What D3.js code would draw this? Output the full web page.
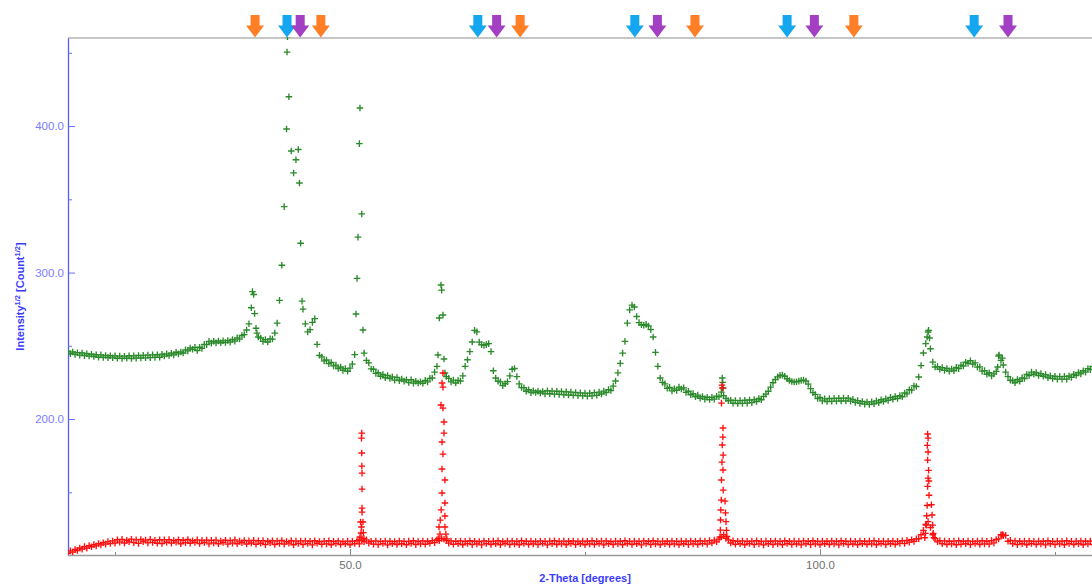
<!DOCTYPE html>
<html>
<head>
<meta charset="utf-8">
<script src="https://cdn.jsdelivr.net/npm/d3@7"></script>
<style>
  html, body { margin: 0; padding: 0; background: #ffffff; }
  svg { display: block; font-family: Arial, "Liberation Sans", sans-serif; }
</style>
</head>
<body>
<svg id="chart" width="1092" height="586"></svg>
<script>
// ---- Data -----------------------------------------------------------------
// Scan grid: 2-Theta from 20.00 in 0.25 degree steps, one row per 5 degrees.
const angleStart = 20;
const angleStep = 0.25;

// Measured pattern, sqrt(counts) (green)
const measuredValues = [
  246.4,244.6,245.8,244.1,245.3,243.6,245.1,243.3,244.6,243.0,244.2,242.7,243.9,242.2,243.8,242.1,243.4,241.9,243.2,241.8, // 20
  243.1,241.5,243.0,241.4,242.9,241.5,243.2,241.3,243.1,241.6,243.4,241.7,243.5,241.8,243.6,241.9,243.8,242.1,243.9,242.2, // 25
  244.2,243.0,244.5,243.4,244.9,243.8,245.6,244.5,245.8,245.1,247.2,246.5,248.5,247.6,248.9,246.8,249.0,248.2,251.0,250.8, // 30
  253.0,251.8,253.1,252.0,253.3,252.1,253.4,252.2,253.6,252.5,254.3,253.2,255.4,254.6,257.0,257.6,260.8,265.0,276.0,285.0, // 35
  262.0,256.0,255.3,253.0,254.2,252.6,254.7,254.6,258.7,265.5,281.0,305.0,345.0,398.0,420.0,383.0,368.0,377.0,384.0,320.0, // 40
  275.0,265.0,259.5,261.0,266.0,268.5,251.0,243.5,242.4,239.7,240.3,237.8,238.6,236.3,236.8,234.5,235.5,233.2,234.4,232.6, // 45
  234.8,237.5,244.0,296.0,388.0,340.0,245.0,240.0,238.3,234.2,234.0,231.2,231.6,229.2,230.4,228.2,229.7,227.7,228.8,226.6, // 50
  228.4,226.2,227.3,225.9,226.8,224.9,226.8,224.5,225.8,224.6,225.5,224.4,226.4,225.4,227.8,228.0,232.0,236.0,269.0,288.0, // 55
  241.0,229.0,227.8,225.4,226.6,224.6,226.4,226.0,229.5,236.0,240.5,246.0,252.6,260.5,259.5,252.5,250.8,250.3,250.8,251.5, // 60
  246.0,233.0,228.0,225.8,225.4,222.8,224.1,225.5,229.5,234.0,234.5,229.0,224.0,221.5,221.4,219.0,220.0,218.0,219.2,218.1, // 65
  219.0,217.8,218.8,217.2,219.3,217.3,219.1,217.0,219.0,216.8,218.8,216.6,218.6,216.4,218.4,216.2,218.1,216.0,217.9,215.8, // 70
  217.7,215.6,217.7,215.8,218.0,216.2,218.4,217.1,219.1,218.0,220.1,219.5,222.5,226.0,231.5,238.0,245.0,253.0,265.5,274.5, // 75
  277.8,276.5,270.0,265.8,264.4,264.0,264.6,263.5,261.0,256.0,245.5,236.0,228.0,225.0,224.0,221.0,221.6,219.2,220.6,219.6, // 80
  221.8,220.5,221.3,218.2,219.0,216.6,217.4,215.2,216.3,214.2,215.4,213.6,214.9,213.3,214.8,213.6,215.6,215.2,218.4,216.0, // 85
  214.0,212.5,212.8,210.8,212.7,210.6,212.6,210.7,212.8,210.9,213.0,211.2,213.3,212.0,214.0,213.2,215.5,217.0,219.0,221.8, // 90
  224.8,227.0,228.8,229.8,230.0,229.2,227.5,226.3,225.6,225.3,225.5,225.9,226.4,226.6,226.0,223.8,220.8,218.0,216.8,214.0, // 95
  214.8,212.4,213.8,212.0,214.0,212.1,214.1,212.2,214.2,212.3,214.3,212.4,214.2,212.2,213.4,211.4,212.6,210.7,212.0,210.2, // 100
  211.6,210.0,211.7,210.4,212.4,211.1,213.2,212.0,213.8,212.7,214.8,213.5,215.4,214.0,216.0,215.2,217.8,217.2,220.0,219.7, // 105
  222.6,222.2,228.7,236.5,245.1,251.5,259.4,248.0,238.9,235.5,235.8,234.0,235.1,233.2,234.5,232.7,234.2,233.0,235.3,234.4, // 110
  236.8,236.2,238.8,238.1,239.8,237.5,238.3,235.4,235.6,232.7,233.1,230.6,231.6,229.5,230.8,232.5,243.0,240.0,236.9,232.0, // 115
  229.0,226.5,226.1,224.8,227.0,225.8,228.1,227.7,230.4,229.7,232.0,230.6,231.8,229.7,231.0,229.2,230.3,228.2,229.5,227.7, // 120
  229.2,227.2,229.0,227.2,229.1,227.2,229.4,228.4,230.6,229.7,231.8,230.8,233.0,232.0,234.4,233.7,236.0,235.0,237.1,236.0  // 125
];

// Extra measured points on the narrow reflections [2-Theta, sqrt(counts)]
const measuredPeakPoints = [
  [39.62,287.0],[39.85,272.0],[40.1,258.7],
  [43.3,450.5],[43.35,461.0],[44.62,361.1],[44.9,280.5],
  [50.64,271.7],[50.85,324.2],[51.06,412.3],[51.38,260.8],
  [59.36,243.7],[59.68,291.5],[59.89,271.0],[60.1,231.4],
  [89.6,228.0],[89.65,225.0],[89.7,221.2],
  [111.4,256.0],[111.55,260.5],[111.65,255.3],
  [118.9,235.5],[119.05,243.7],[119.4,241.6]
];

// Reference pattern, sqrt(counts) (red)
const referenceValues = [
  108.4,110.0,109.2,111.0,110.3,112.0,111.2,112.9,111.9,113.6,112.8,114.3,113.4,115.0,114.1,115.6,114.6,116.3,115.0,116.8, // 20
  115.3,117.6,116.0,117.9,115.4,117.3,116.2,118.0,115.6,117.5,115.1,117.8,116.3,117.4,115.5,117.9,115.8,117.2,115.2,117.6, // 25
  115.0,117.5,115.9,117.7,115.3,117.0,116.0,117.6,114.9,117.3,115.6,117.8,115.2,116.9,115.8,117.5,115.0,117.2,115.7,117.4, // 30
  114.8,117.2,115.5,117.4,114.9,116.8,115.7,117.3,114.6,117.0,115.3,117.5,114.9,116.7,115.6,117.1,114.7,116.9,115.4,117.2, // 35
  114.5,116.9,115.2,117.0,114.3,116.6,115.5,116.9,114.4,116.8,115.0,117.1,114.6,116.3,115.3,116.9,114.2,116.7,115.1,116.8, // 40
  114.3,116.8,115.0,116.6,114.1,116.9,115.2,116.4,114.5,116.7,114.8,116.9,114.2,116.5,115.1,116.8,114.4,116.3,114.9,116.7, // 45
  114.2,116.6,115.0,116.9,114.8,117.2,116.3,117.5,115.3,116.6,114.6,116.8,114.3,116.5,115.0,116.7,114.1,116.6,114.9,116.4, // 50
  114.4,116.8,114.9,116.5,114.2,116.7,115.1,116.9,114.3,116.4,114.8,116.8,114.5,116.6,115.2,117.0,115.6,117.6,117.0,118.5, // 55
  118.0,117.2,115.3,116.8,114.5,116.6,114.9,116.8,114.2,116.5,115.0,116.9,114.3,116.6,114.8,116.4,114.1,116.8,115.0,116.5, // 60
  114.4,116.7,114.9,116.9,114.2,116.4,115.1,116.7,114.3,116.8,114.7,116.5,114.2,116.9,115.0,116.6,114.4,116.7,114.8,116.4, // 65
  114.3,116.8,115.0,116.5,114.1,116.7,114.9,116.9,114.4,116.5,114.8,116.7,114.2,116.6,115.1,116.8,114.3,116.4,114.9,116.7, // 70
  114.2,116.6,114.8,116.9,114.4,116.5,115.0,116.7,114.1,116.8,114.9,116.4,114.3,116.7,114.8,116.6,114.2,116.9,115.0,116.5, // 75
  114.4,116.7,114.9,116.5,114.1,116.8,115.0,116.6,114.3,116.9,114.7,116.5,114.2,116.7,114.9,116.6,114.4,116.8,114.8,116.5, // 80
  114.2,116.7,114.9,116.6,114.3,116.8,114.8,116.5,114.4,116.9,115.0,116.7,114.6,117.0,115.4,117.4,116.2,118.0,119.5,121.0, // 85
  118.5,117.5,115.4,116.9,114.5,116.6,114.9,116.8,114.2,116.5,115.0,116.7,114.3,116.9,114.8,116.5,114.1,116.7,114.9,116.6, // 90
  114.3,116.8,114.8,116.5,114.2,116.9,115.0,116.6,114.4,116.7,114.7,116.5,114.1,116.8,114.9,116.6,114.3,116.9,114.8,116.5, // 95
  114.2,116.7,114.9,116.6,114.4,116.8,114.8,116.5,114.1,116.9,115.0,116.6,114.3,116.7,114.7,116.5,114.2,116.8,114.9,116.6, // 100
  114.4,116.7,114.8,116.9,114.2,116.5,115.0,116.7,114.3,116.6,114.9,116.8,114.4,116.5,115.1,116.9,115.0,117.2,116.0,117.6, // 105
  116.5,118.2,118.3,121.0,124.0,128.0,130.0,126.0,121.0,118.4,116.2,117.0,114.9,116.8,114.4,116.6,114.8,116.7,114.2,116.9, // 110
  114.5,116.6,114.9,116.8,114.3,116.5,115.0,116.7,114.4,116.9,114.8,116.6,114.6,117.0,115.5,117.8,118.2,121.0,120.3,120.6, // 115
  116.6,117.2,114.9,116.8,114.3,116.6,114.9,116.7,114.2,116.8,115.0,116.5,114.4,116.7,114.8,116.6,114.1,116.9,114.9,116.5, // 120
  114.3,116.7,114.8,116.6,114.2,116.9,115.0,116.5,114.4,116.7,114.9,116.8,114.2,116.6,114.8,116.7,114.3,116.9,114.9,116.5  // 125
];

// Extra reference points on the narrow reflections [2-Theta, sqrt(counts)]
const referencePeakPoints = [
  [50.98,117.5],[51.06,119.5],[51.17,122.2],[51.22,126.3],[51.12,129.7],[51.28,136.5],[51.28,139.2],
  [51.28,152.2],[51.28,163.1],[51.26,167.9],[51.25,176.8],[51.22,187.0],[51.25,190.4],
  [51.38,129.7],[51.42,122.5],[51.48,118.5],
  [59.89,231.4],[59.79,224.6],[59.89,221.8],[59.68,209.6],[59.89,207.5],[60.0,198.0],[60.0,190.4],
  [59.79,184.3],[59.89,176.1],[59.79,165.9],[60.1,158.4],[59.79,149.5],[60.1,142.7],[60.1,133.8],
  [59.47,126.3],[60.1,126.3],[59.57,121.5],[60.2,121.5],[59.4,118.5],[60.3,118.2],[59.6,131.0],[59.7,138.0],
  [89.57,223.2],[89.62,221.2],[89.52,210.9],[89.68,193.9],[89.66,187.7],[89.6,182.3],[89.7,175.4],
  [89.57,170.6],[89.68,165.2],[89.52,158.4],[89.7,151.5],[89.5,144.7],[89.9,144.0],[89.45,137.9],
  [89.95,136.0],[89.42,131.1],[90.0,130.0],[89.4,124.2],[90.05,124.0],[89.35,119.5],[90.1,119.8],
  [111.45,189.8],[111.5,187.0],[111.42,182.0],[111.5,177.5],[111.45,172.0],[111.55,165.0],[111.5,159.7],
  [111.58,157.7],[111.45,154.0],[111.6,148.0],[111.4,141.0],[111.85,141.5],[111.35,134.0],[111.92,134.5],
  [111.3,127.6],[111.98,127.6],[111.22,122.0],[112.05,122.0],[111.15,119.0],[112.12,119.0],
  [119.35,120.8],[119.45,121.2]
];

// Phase reflection markers (2-Theta)
const phaseOrange = [39.9, 46.9, 68.1, 86.7, 103.6];
const phaseBlue   = [43.3, 63.6, 80.3, 96.5, 116.4];
const phasePurple = [44.7, 65.6, 82.7, 99.4, 120.0];

// Axis ticks
const xMajorTicks = [50, 100];
const xMinorTicks = [25, 75, 125];
const yMajorTicks = [200, 300, 400];
const yMinorTicks = [150, 250, 350, 450];

// ---- Layout ---------------------------------------------------------------
const plot = { left: 68, right: 1102, top: 38, bottom: 555 };

const svg = d3.select("#chart");

const x = d3.scaleLinear().domain([20, 130]).range([plot.left, plot.right]);
const y = d3.scaleLinear().domain([107.2, 460.1]).range([plot.bottom, plot.top]);

svg.append("defs").append("clipPath").attr("id", "plot-clip")
  .append("rect")
  .attr("x", plot.left).attr("y", plot.top - 1)
  .attr("width", plot.right - plot.left).attr("height", plot.bottom - plot.top + 1);

// Top frame line
svg.append("line")
  .attr("x1", plot.left).attr("x2", plot.right)
  .attr("y1", plot.top).attr("y2", plot.top)
  .attr("stroke", "#b3b3b3").attr("stroke-width", 1.6);

// ---- Axes -----------------------------------------------------------------
const fmt = d3.format(".1f");

const xAxis = svg.append("g").attr("transform", `translate(0,${plot.bottom})`)
  .call(d3.axisBottom(x).tickValues(xMajorTicks).tickFormat(fmt)
    .tickSize(-6).tickSizeOuter(0).tickPadding(6));
xAxis.select(".domain").attr("stroke", "#9a9a9a").attr("stroke-width", 1.3);
xAxis.selectAll(".tick line").attr("stroke", "#8a8a8a");
xAxis.selectAll(".tick text").attr("fill", "#6f6f6f").attr("font-size", 11.5)
  .attr("font-family", "Arial, 'Liberation Sans', sans-serif");

const xMinor = svg.append("g").attr("transform", `translate(0,${plot.bottom})`)
  .call(d3.axisBottom(x).tickValues(xMinorTicks).tickFormat("").tickSize(-3).tickSizeOuter(0));
xMinor.select(".domain").remove();
xMinor.selectAll(".tick line").attr("stroke", "#8a8a8a");

const yAxis = svg.append("g").attr("transform", `translate(${plot.left},0)`)
  .call(d3.axisLeft(y).tickValues(yMajorTicks).tickFormat(fmt)
    .tickSize(-7).tickSizeOuter(0).tickPadding(4));
yAxis.select(".domain").attr("stroke", "#5a5aff").attr("stroke-width", 1.3);
yAxis.selectAll(".tick line").attr("stroke", "#6a6aff");
yAxis.selectAll(".tick text").attr("fill", "#7c7cff").attr("font-size", 11.5)
  .attr("font-family", "Arial, 'Liberation Sans', sans-serif");

const yMinor = svg.append("g").attr("transform", `translate(${plot.left},0)`)
  .call(d3.axisLeft(y).tickValues(yMinorTicks).tickFormat("").tickSize(-4).tickSizeOuter(0));
yMinor.select(".domain").remove();
yMinor.selectAll(".tick line").attr("stroke", "#6a6aff");

// Axis titles
svg.append("text")
  .attr("x", (plot.left + plot.right) / 2).attr("y", 582)
  .attr("text-anchor", "middle")
  .attr("font-size", 11).attr("font-weight", "bold").attr("fill", "#3c3cff")
  .text("2-Theta [degrees]");

const yTitle = svg.append("text")
  .attr("transform", `translate(24,${(plot.top + plot.bottom) / 2}) rotate(-90)`)
  .attr("text-anchor", "middle")
  .attr("font-size", 11).attr("font-weight", "bold").attr("fill", "#3c3cff");
yTitle.append("tspan").text("Intensity");
yTitle.append("tspan").attr("dy", -4).attr("font-size", 7.5).text("1/2");
yTitle.append("tspan").attr("dy", 4).text(" [Count");
yTitle.append("tspan").attr("dy", -4).attr("font-size", 7.5).text("1/2");
yTitle.append("tspan").attr("dy", 4).text("]");

// ---- Data points ----------------------------------------------------------
const gridPoints = values => values.map((v, i) => [angleStart + i * angleStep, v]);

const measured = gridPoints(measuredValues).concat(measuredPeakPoints);
const reference = gridPoints(referenceValues).concat(referencePeakPoints);

const crossPath = "M-3.3,0H3.3M0,-3.3V3.3";

function drawCrosses(points, color) {
  svg.append("g").attr("clip-path", "url(#plot-clip)")
    .selectAll("path").data(points).join("path")
    .attr("d", crossPath)
    .attr("transform", d => `translate(${x(d[0])},${y(d[1])})`)
    .attr("fill", "none")
    .attr("stroke", color)
    .attr("stroke-width", 1.35);
}

drawCrosses(measured, "#2b8a2b");
drawCrosses(reference, "#ff0f0f");

// ---- Phase markers --------------------------------------------------------
function drawArrows(positions, color) {
  svg.append("g").selectAll("path").data(positions).join("path")
    .attr("d", d => {
      const cx = x(d);
      return `M${cx - 4.5},15H${cx + 4.5}V25.5H${cx + 9}L${cx},37.5L${cx - 9},25.5H${cx - 4.5}Z`;
    })
    .attr("fill", color);
}

drawArrows(phaseOrange, "#ff7f27");
drawArrows(phaseBlue, "#14a6ef");
drawArrows(phasePurple, "#a23fc2");
</script>
</body>
</html>
